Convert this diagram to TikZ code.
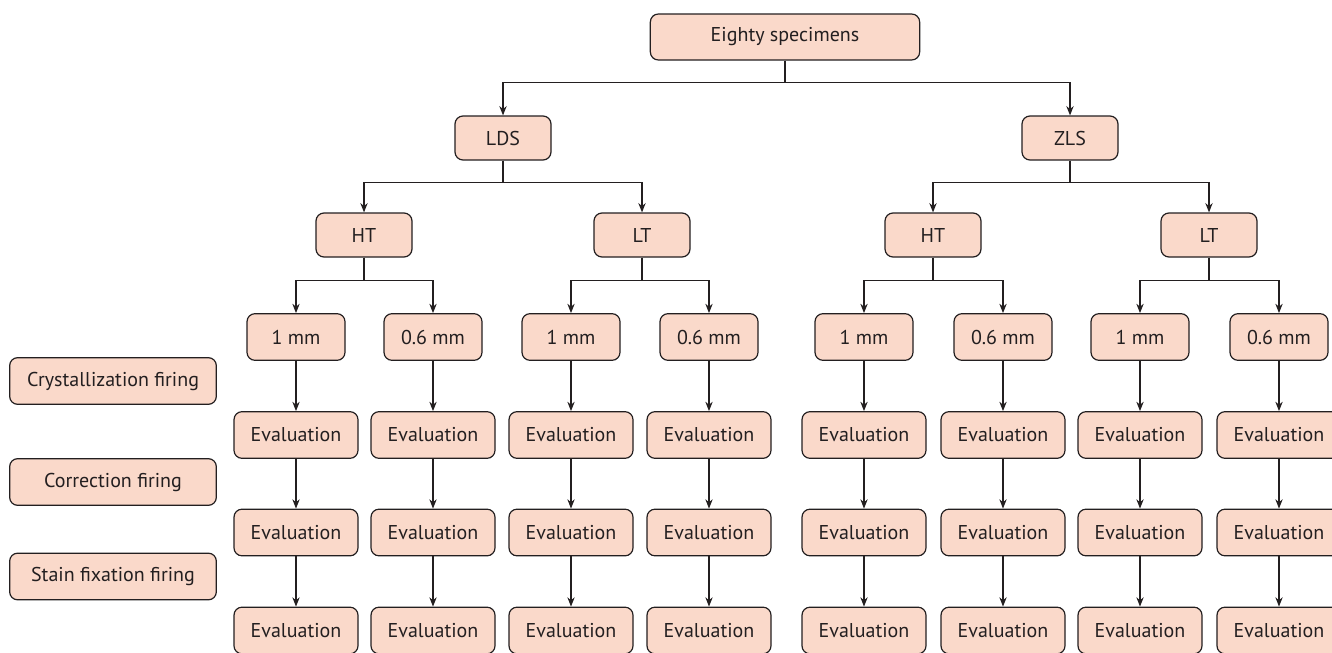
\documentclass[tikz,border=0pt]{standalone}
\usepackage{fontspec}
\setmainfont{PT Sans}
\usetikzlibrary{positioning, arrows.meta}
\definecolor{boxfill}{HTML}{FAD9CA}
\definecolor{boxline}{HTML}{231F20}

\begin{document}
\begin{tikzpicture}[
        x=0.75pt, y=-0.75pt,
        box/.style={draw=boxline, fill=boxfill, rounded corners=6pt, line width=0.9pt,
          text=boxline, font=\fontsize{15}{17}\selectfont, inner sep=0pt,
          minimum height=35pt},
        topbox/.style={box, minimum width=202pt, minimum height=34.5pt},
        groupbox/.style={box, minimum width=72pt, minimum height=33pt},
        sizebox/.style={box, minimum width=73.5pt},
        evalbox/.style={box, minimum width=93pt},
        stagebox/.style={box, minimum width=155pt},
        link/.style={draw=boxline, line width=0.9pt, -{Stealth[length=7pt, width=5.5pt]}}
      ]
      \useasboundingbox (0,0) rectangle (1332,653);

      % top of the tree
      \node[topbox] (spec) at (785,37) {Eighty specimens};
      \node[groupbox] (lds) at (503,138) {LDS};
      \node[groupbox] (zls) at (1070,138) {ZLS};
      \node[groupbox] (ldsht) at (364,235) {HT};
      \node[groupbox] (ldslt) at (642,235) {LT};
      \node[groupbox] (zlsht) at (933,235) {HT};
      \node[groupbox] (zlslt) at (1209,235) {LT};

      \draw[link] (spec.south) -- +(0,22) -| (lds.north);
      \draw[link] (spec.south) -- +(0,22) -| (zls.north);
      \foreach \p/\a/\b in {lds/ldsht/ldslt, zls/zlsht/zlslt} {
        \draw[link] (\p.south) -- +(0,22) -| (\a.north);
        \draw[link] (\p.south) -- +(0,22) -| (\b.north);
      }

      % thickness columns with their evaluations
      \foreach \x/\t [count=\i] in {296/1 mm, 433/0.6 mm, 571/1 mm, 709/0.6 mm,
          864/1 mm, 1003/0.6 mm, 1140/1 mm, 1279/0.6 mm} {
        \node[sizebox] (t\i) at (\x,337) {\t};
        \node[evalbox] (ev\i-1) at (\x,435) {Evaluation};
        \node[evalbox] (ev\i-2) at (\x,532.5) {Evaluation};
        \node[evalbox] (ev\i-3) at (\x,630.5) {Evaluation};
        \draw[link] (t\i) -- (ev\i-1);
        \draw[link] (ev\i-1) -- (ev\i-2);
        \draw[link] (ev\i-2) -- (ev\i-3);
      }
      \foreach \p/\a/\b in {ldsht/1/2, ldslt/3/4, zlsht/5/6, zlslt/7/8} {
        \draw[link] (\p.south) -- +(0,23) -| (t\a.north);
        \draw[link] (\p.south) -- +(0,23) -| (t\b.north);
      }

      % firing steps
      \node[stagebox] (cryst) at (113,381) {Crystallization firing};
      \node[stagebox] (corr) at (113,482) {Correction firing};
      \node[stagebox] (stain) at (113,576.5) {Stain fixation firing};
      \end{tikzpicture}
\end{document}
